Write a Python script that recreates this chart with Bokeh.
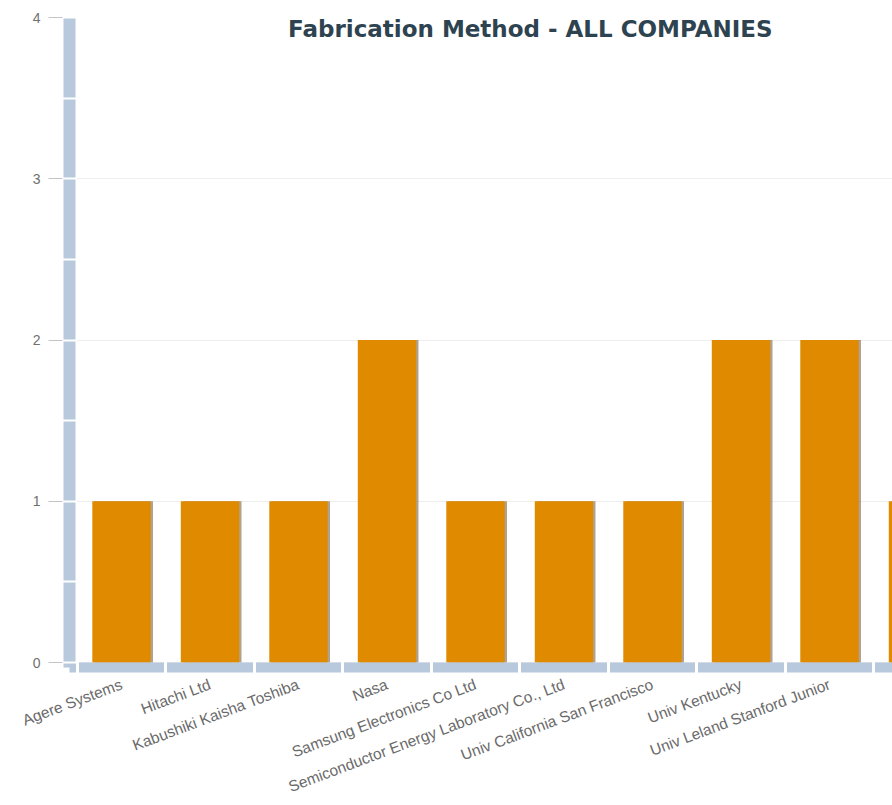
from bokeh.plotting import figure
from bokeh.models import ColumnDataSource, FixedTicker, Range1d, Label
from bokeh.transform import dodge
from bokeh.embed import file_html
from bokeh.resources import INLINE

# ---- data ----
companies = [
    "Agere Systems",
    "Hitachi Ltd",
    "Kabushiki Kaisha Toshiba",
    "Nasa",
    "Samsung Electronics Co Ltd",
    "Semiconductor Energy Laboratory Co., Ltd",
    "Univ California San Francisco",
    "Univ Kentucky",
    "Univ Leland Stanford Junior",
    "Univ Tsinghua",
]
counts = [1, 1, 1, 2, 1, 1, 1, 2, 2, 1]
y_ticks = [0, 1, 2, 3, 4]
title_text = "Fabrication Method - ALL COMPANIES"

idx = list(range(len(companies)))
src = ColumnDataSource(dict(x=idx, value=counts, name=companies))

AXIS_BLUE = "#b8c9dd"
BAR = "#e08a00"

p = figure(
    width=892, height=805,
    x_range=Range1d(-0.5876, 8.712),
    y_range=Range1d(-0.031, 4.0),
    output_backend="svg", toolbar_location=None,
    min_border_left=69, min_border_right=0, min_border_top=17, min_border_bottom=138,
)
p.outline_line_color = None
p.background_fill_color = "white"
p.border_fill_color = "white"

# bars with a soft shadow on the right edge
p.vbar(x=dodge("x", 0.026), top="value", width=0.66, source=src,
       fill_color="#8f7a60", line_color=None, fill_alpha=0.7)
p.vbar(x="x", top="value", width=0.66, source=src,
       fill_color=BAR, line_color=None)

# grid
p.xgrid.visible = False
p.ygrid.grid_line_color = "#eeeeee"
p.ygrid.grid_line_width = 1

# y axis
ya = p.yaxis[0]
ya.ticker = FixedTicker(ticks=y_ticks,
                        minor_ticks=[v / 2 for v in range(0, 2 * y_ticks[-1] + 1)])
ya.axis_line_color = AXIS_BLUE
ya.axis_line_width = 12
ya.major_tick_line_color = "#c4c4c4"
ya.major_tick_out = 21
ya.major_tick_in = 0
ya.minor_tick_line_color = "white"
ya.minor_tick_line_width = 2
ya.minor_tick_in = 7
ya.minor_tick_out = 7
ya.major_label_standoff = 8
ya.major_label_text_font = "Liberation Sans"
ya.major_label_text_font_size = "14px"
ya.major_label_text_color = "#707070"

# x axis
xa = p.xaxis[0]
xa.ticker = FixedTicker(ticks=idx, minor_ticks=[i - 0.5 for i in range(len(idx) + 1)])
xa.major_label_overrides = {i: n for i, n in zip(idx, companies)}
xa.major_label_orientation = 0.36
xa.axis_line_color = AXIS_BLUE
xa.axis_line_width = 10
xa.major_tick_line_color = None
xa.minor_tick_line_color = "white"
xa.minor_tick_line_width = 3
xa.minor_tick_in = 6
xa.minor_tick_out = 6
xa.major_label_standoff = 10
xa.major_label_text_font = "Liberation Sans"
xa.major_label_text_font_size = "15.5px"
xa.major_label_text_color = "#6a6a6a"

# title drawn inside the plotting area
p.add_layout(Label(x=4.62, y=3.93, text=title_text, text_align="center",
                   text_baseline="middle", text_font="DejaVu Sans",
                   text_font_style="bold", text_font_size="23px",
                   text_color="#2e4350"))

open("out.html", "w").write(file_html(p, INLINE))
